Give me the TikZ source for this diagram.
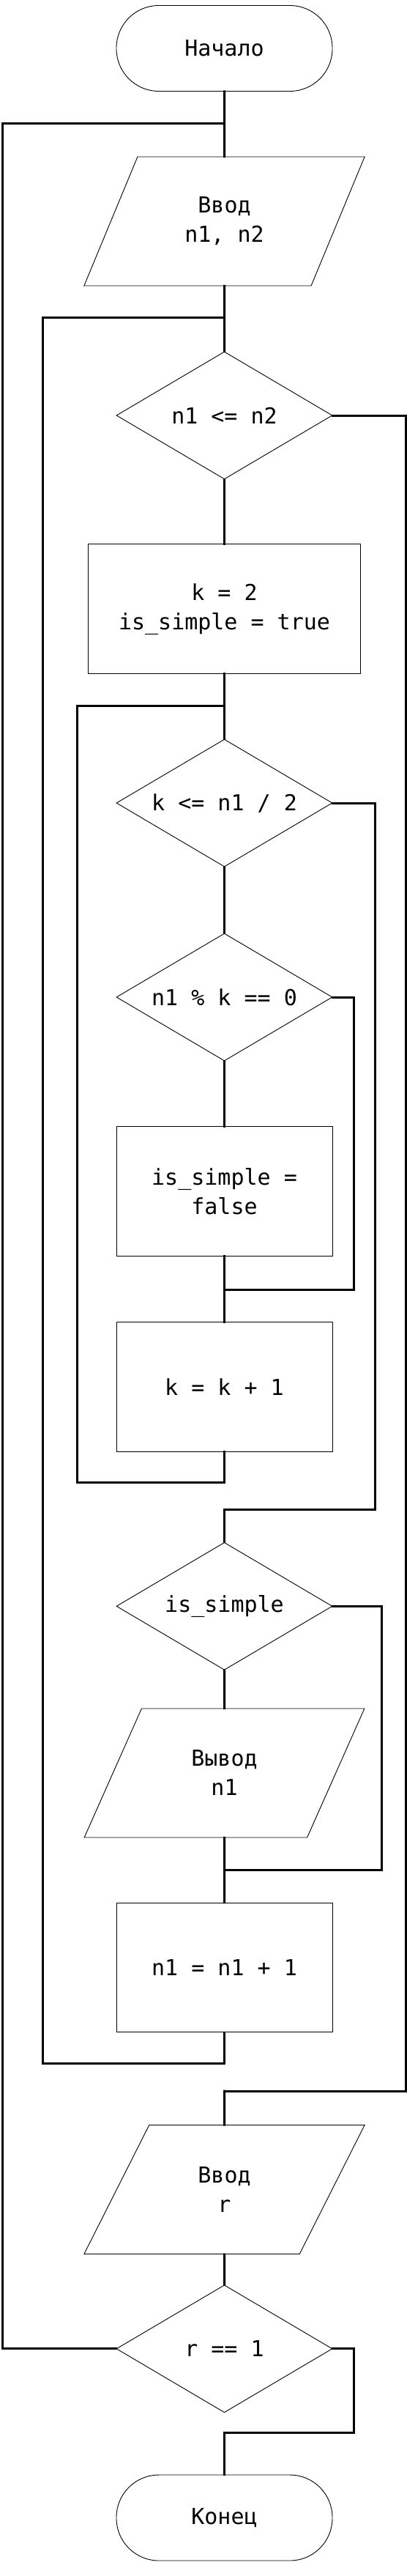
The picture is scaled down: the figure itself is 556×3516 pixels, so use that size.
\documentclass[tikz,border=0pt]{standalone}
\usepackage{fontspec}
\setmonofont{DejaVu Sans Mono}
\usetikzlibrary{shapes.geometric}
\begin{document}
\begin{tikzpicture}[x=1pt,y=-1pt,
  base/.style={draw=black, line width=0.9pt, fill=white, inner sep=0pt, align=center,
    font=\ttfamily\fontsize{30}{40}\selectfont},
  term/.style={base, rectangle, rounded corners=58pt, minimum width=295pt, minimum height=117pt},
  io/.style={base, trapezium, trapezium left angle=63.2, trapezium right angle=116.8,
    trapezium stretches=true, minimum width=383.5pt, minimum height=176pt},
  dec/.style={base, diamond, shape aspect=1.7, minimum width=295pt, minimum height=174pt},
  proc/.style={base, rectangle, minimum width=295pt, minimum height=176.6pt},
  conn/.style={draw=black, line width=3pt, line cap=rect}
]
\useasboundingbox (0,0) rectangle (556,3516);
\fill[white] (0,0) rectangle (556,3516);

% nodes
\node[term] (start) at (306.5,66) {Начало};
\node[io] (in1) at (306.5,302) {Ввод\\n1, n2};
\node[dec] (c1) at (306.5,567) {n1 <= n2};
\node[proc, minimum width=372pt] (p1) at (306.5,831.2) {k = 2\\is\_simple = true};
\node[dec] (c2) at (306.5,1096) {k <= n1 / 2};
\node[dec] (c3) at (306.5,1361) {n1 \% k == 0};
\node[proc] (p2) at (306.5,1626) {is\_simple =\\false};
\node[proc] (p3) at (306.5,1892.8) {k = k + 1};
\node[dec] (c4) at (306.5,2192.3) {is\_simple};
\node[io] (out1) at (306.5,2420) {Вывод\\n1};
\node[proc] (p4) at (306.5,2685.3) {n1 = n1 + 1};
\node[io] (in2) at (306.5,2988.5) {Ввод\\r};
\node[dec] (c5) at (306.5,3205.8) {r == 1};
\node[term] (stop) at (306.5,3436.5) {Конец};

% junction coordinates
\coordinate (j0) at (306.5,169);
\coordinate (j1) at (306.5,433.6);
\coordinate (j2) at (306.5,963.7);
\coordinate (j3) at (306.5,1760);
\coordinate (j4) at (306.5,2023.6);
\coordinate (j5) at (306.5,2060);
\coordinate (j6) at (306.5,2552.8);
\coordinate (j7) at (306.5,2816.5);
\coordinate (j8) at (306.5,2854);
\coordinate (j9) at (306.5,3320.8);

% main flow
\draw[conn] (start.south) -- (in1.north);
\draw[conn] (in1.south) -- (c1.north);
\draw[conn] (c1.south) -- (p1.north);
\draw[conn] (p1.south) -- (c2.north);
\draw[conn] (c2.south) -- (c3.north);
\draw[conn] (c3.south) -- (p2.north);
\draw[conn] (p2.south) -- (p3.north);
\draw[conn] (p3.south) -- (j4);
\draw[conn] (j5) -- (c4.north);
\draw[conn] (c4.south) -- (out1.north);
\draw[conn] (out1.south) -- (p4.north);
\draw[conn] (p4.south) -- (j7);
\draw[conn] (j8) -- (in2.north);
\draw[conn] (in2.south) -- (c5.north);
\draw[conn] (j9) -- (stop.north);

% loops and branches
\draw[conn] (c5.west) -| (3,169) -- (j0);
\draw[conn] (j7) -| (58.6,433.6) -- (j1);
\draw[conn] (c1.east) -| (554,2854) -- (j8);
\draw[conn] (j4) -| (105.8,963.7) -- (j2);
\draw[conn] (c2.east) -| (512.4,2060) -- (j5);
\draw[conn] (c3.east) -| (483,1760) -- (j3);
\draw[conn] (c4.east) -| (521.3,2552.8) -- (j6);
\draw[conn] (c5.east) -| (483,3320.8) -- (j9);
\end{tikzpicture}
\end{document}
